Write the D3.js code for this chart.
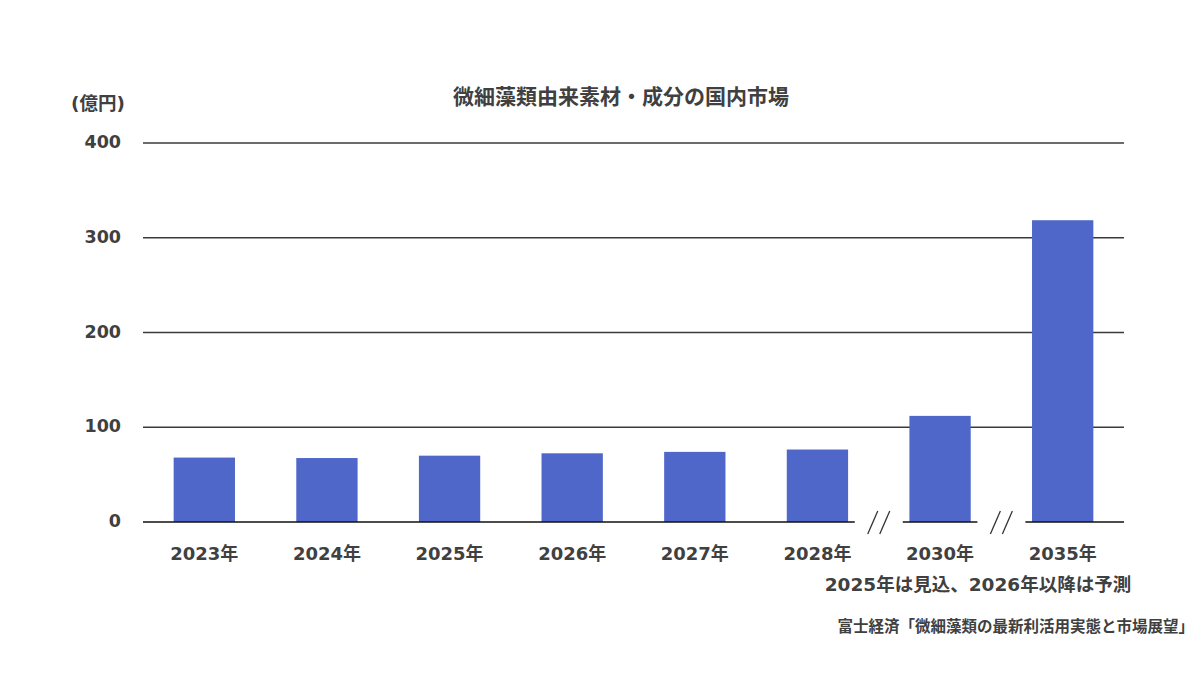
<!DOCTYPE html>
<html lang="ja">
<head>
    <meta charset="UTF-8">
    <title>微細藻類由来素材・成分の国内市場</title>
    <script src="https://cdn.jsdelivr.net/npm/d3@7"></script>
    <style>
        body { margin: 0; background: #fff; }
        text { font-family: "DejaVu Sans", "Noto Sans CJK JP", sans-serif; font-weight: bold; fill: #404040; }
    </style>
</head>
<body>
    <div id="chart-space"></div>

    <script>
        var years = ["2023年", "2024年", "2025年", "2026年", "2027年", "2028年", "2030年", "2035年"];
        var values = [68, 67.5, 70, 72.5, 74, 76.5, 112, 318.5];
        var yTicks = [0, 100, 200, 300, 400];
        // the x axis breaks before these categories
        var breakBefore = ["2030年", "2035年"];

        var width = 1200;
        var height = 675;
        var margin = {top: 143, right: 76, bottom: 153, left: 143};
        var chartWidth = width - margin.left - margin.right;
        var chartHeight = height - margin.top - margin.bottom;

        var svg = d3.select("#chart-space")
            .append("svg")
            .attr("width", width)
            .attr("height", height);

        var g = svg.append("g")
            .attr("transform", "translate(" + margin.left + "," + margin.top + ")");

        var xScale = d3.scaleBand()
            .domain(years)
            .range([0, chartWidth])
            .paddingInner(0.5)
            .paddingOuter(0.25);

        var yScale = d3.scaleLinear()
            .domain([0, 400])
            .range([chartHeight, 0]);

        // gridlines
        g.selectAll(".grid")
            .data(yTicks.filter(function(d) { return d > 0; }))
            .join("line")
            .attr("x1", 0)
            .attr("x2", chartWidth)
            .attr("y1", function(d) { return yScale(d); })
            .attr("y2", function(d) { return yScale(d); })
            .attr("stroke", "#3a3a3a")
            .attr("stroke-width", 1.3);

        // y labels
        g.selectAll(".ylab")
            .data(yTicks)
            .join("text")
            .attr("x", -22)
            .attr("y", function(d) { return yScale(d) + 5; })
            .attr("text-anchor", "end")
            .style("font-size", "17.5px")
            .text(function(d) { return d; });

        g.selectAll(".bar")
            .data(values)
            .join("rect")
            .attr("x", function(d, i) { return xScale(years[i]); })
            .attr("y", function(d) { return yScale(d); })
            .attr("width", xScale.bandwidth())
            .attr("height", function(d) { return chartHeight - yScale(d); })
            .attr("fill", "#4e67c8");

        // baseline with gaps for the breaks
        var step = xScale.step();
        var gapHalf = 24;
        var segs = [];
        var start = 0;
        breakBefore.forEach(function(c) {
            var bx = xScale(c) - (step - xScale.bandwidth()) / 2;
            segs.push([start, bx - gapHalf]);
            start = bx + gapHalf;
        });
        segs.push([start, chartWidth]);

        g.selectAll(".base")
            .data(segs)
            .join("line")
            .attr("x1", function(d) { return d[0]; })
            .attr("x2", function(d) { return d[1]; })
            .attr("y1", chartHeight)
            .attr("y2", chartHeight)
            .attr("stroke", "#111")
            .attr("stroke-width", 1.6);

        // break marks "//"
        breakBefore.forEach(function(c) {
            var bx = xScale(c) - (step - xScale.bandwidth()) / 2;
            [-6, 6].forEach(function(off) {
                g.append("line")
                    .attr("x1", bx + off - 5)
                    .attr("x2", bx + off + 5)
                    .attr("y1", chartHeight + 12)
                    .attr("y2", chartHeight - 11)
                    .attr("stroke", "#333")
                    .attr("stroke-width", 1.3);
            });
        });

        // x labels
        g.selectAll(".xlab")
            .data(years)
            .join("text")
            .attr("x", function(d) { return xScale(d) + xScale.bandwidth() / 2; })
            .attr("y", chartHeight + 38)
            .attr("text-anchor", "middle")
            .style("font-size", "18px")
            .text(function(d) { return d; });

        svg.append("text")
            .attr("x", 621)
            .attr("y", 104)
            .attr("text-anchor", "middle")
            .style("font-size", "21px")
            .text("微細藻類由来素材・成分の国内市場");

        svg.append("text")
            .attr("x", 98)
            .attr("y", 110)
            .attr("text-anchor", "middle")
            .style("font-size", "18.5px")
            .text("(億円)");

        svg.append("text")
            .attr("x", 978)
            .attr("y", 591)
            .attr("text-anchor", "middle")
            .style("font-size", "18.5px")
            .text("2025年は見込、2026年以降は予測");

        svg.append("text")
            .attr("x", 1194)
            .attr("y", 632)
            .attr("text-anchor", "end")
            .style("font-size", "15.5px")
            .text("富士経済「微細藻類の最新利活用実態と市場展望」");
    </script>
</body>
</html>
